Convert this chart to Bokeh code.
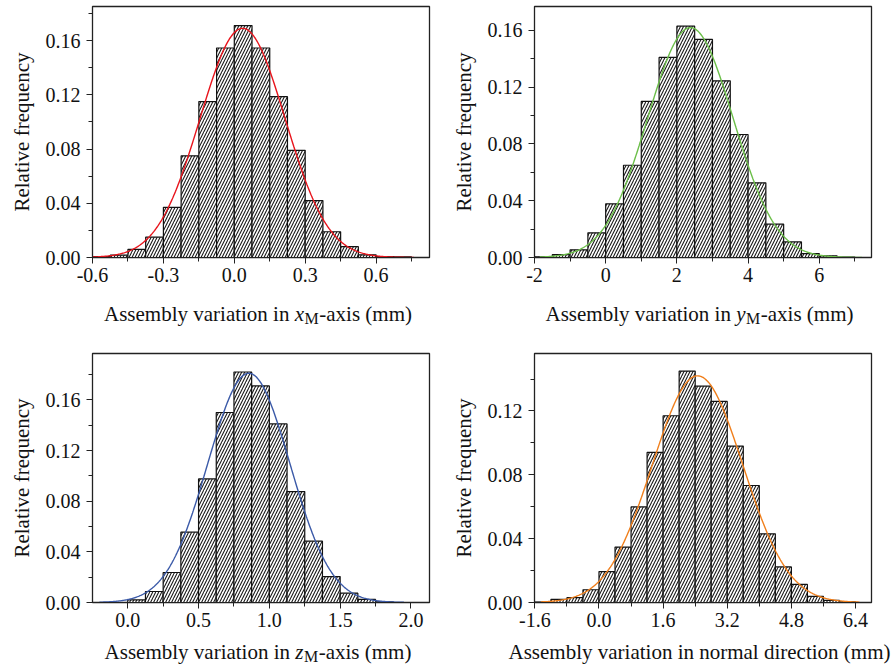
import numpy as np
from bokeh.plotting import figure
from bokeh.layouts import column, row
from bokeh.models import Range1d, FixedTicker, PrintfTickFormatter, Label
from bokeh.embed import file_html
from bokeh.resources import INLINE

FONT = "Liberation Serif"

# ---------------- data ----------------
# Panel 1: x_M-axis
p1_bin_start = -0.6
p1_bin_width = 0.075
p1_freq = [0.0007, 0.0017, 0.006, 0.015, 0.037, 0.075, 0.115, 0.1545, 0.171,
           0.1545, 0.1186, 0.079, 0.042, 0.019, 0.008, 0.002, 0.0007, 0.0004]
p1_fit_mean, p1_fit_sd, p1_fit_peak = 0.035, 0.18, 0.169
p1_fit_span = (-0.6, 0.76)
p1_xticks = [-0.6, -0.3, 0.0, 0.3, 0.6]
p1_xminor = [-0.45, -0.15, 0.15, 0.45, 0.75]
p1_yticks = [0.0, 0.04, 0.08, 0.12, 0.16]

# Panel 2: y_M-axis
p2_bin_start = -2.0
p2_bin_width = 0.5
p2_freq = [0.0005, 0.002, 0.0054, 0.0174, 0.0378, 0.065, 0.110, 0.141, 0.163,
           0.1537, 0.1245, 0.0867, 0.0526, 0.0235, 0.011, 0.0028, 0.0012, 0.0003]
p2_fit_mean, p2_fit_sd, p2_fit_peak = 2.38, 1.2, 0.162
p2_fit_span = (-1.85, 7.2)
p2_xticks = [-2, 0, 2, 4, 6]
p2_xminor = [-1, 1, 3, 5, 7]
p2_yticks = [0.0, 0.04, 0.08, 0.12, 0.16]

# Panel 3: z_M-axis
p3_bin_start = 0.0
p3_bin_width = 0.125
p3_freq = [0.002, 0.0087, 0.0237, 0.0555, 0.0976, 0.150, 0.182, 0.171, 0.141,
           0.0876, 0.0484, 0.0205, 0.0074, 0.0024, 0.0005]
p3_fit_mean, p3_fit_sd, p3_fit_peak = 0.855, 0.29, 0.181
p3_fit_span = (-0.2, 1.95)
p3_xticks = [0.0, 0.5, 1.0, 1.5, 2.0]
p3_xminor = [0.25, 0.75, 1.25, 1.75]
p3_yticks = [0.0, 0.04, 0.08, 0.12, 0.16]

# Panel 4: normal direction
p4_bin_start = -1.6
p4_bin_width = 0.4
p4_freq = [0.0002, 0.0019, 0.003, 0.008, 0.0194, 0.0347, 0.0599, 0.094, 0.117,
           0.145, 0.1355, 0.126, 0.098, 0.0733, 0.043, 0.0223, 0.0113, 0.0038,
           0.0013, 0.0004]
p4_fit_mean, p4_fit_sd, p4_fit_peak = 2.46, 1.13, 0.142
p4_fit_span = (-1.45, 6.5)
p4_xticks = [-1.6, 0.0, 1.6, 3.2, 4.8, 6.4]
p4_xminor = [-0.8, 0.8, 2.4, 4.0, 5.6]
p4_yticks = [0.0, 0.04, 0.08, 0.12]

# ---------------- text metrics (Times / Liberation Serif) ----------------
REG = {' ': 250, 'A': 722, 'M': 889, 'R': 667, 'a': 444, 'b': 500, 'c': 444,
       'd': 500, 'e': 444, 'f': 333, 'i': 278, 'l': 278, 'm': 778, 'n': 500,
       'o': 500, 'q': 500, 'r': 333, 's': 389, 't': 278, 'u': 500, 'v': 500,
       'x': 500, 'y': 500, '(': 333, ')': 333, '-': 333}
ITAL = {'x': 444, 'y': 444, 'z': 389}


def tw(s, size, table=REG):
    return sum(table.get(c, 500) for c in s) * size / 1000.0


LBL_SIZE = 21
SUB_SIZE = 16
TICK_SIZE = "20px"
INK = "#111111"


def make_strip(width, height, center, y_base, var=None, plain=None):
    s = figure(width=width, height=height, x_range=Range1d(0, width),
               y_range=Range1d(0, height), output_backend="svg",
               toolbar_location=None, x_axis_location=None, y_axis_location=None,
               min_border=0, min_border_left=0, min_border_right=0,
               min_border_top=0, min_border_bottom=0)
    s.outline_line_color = None
    s.grid.visible = False
    s.background_fill_color = "white"
    s.border_fill_color = "white"
    common = dict(text_font=FONT, text_color=INK, text_baseline="alphabetic",
                  text_align="left")
    if plain is not None:
        s.add_layout(Label(x=center, y=y_base, text=plain,
                           text_font_size=f"{LBL_SIZE}px",
                           **{**common, "text_align": "center"}))
        return s
    pre = "Assembly variation in "
    post = "-axis (mm)"
    w_pre = tw(pre, LBL_SIZE)
    w_var = tw(var, LBL_SIZE, ITAL)
    w_sub = tw("M", SUB_SIZE) + 1.0
    w_post = tw(post, LBL_SIZE)
    total = w_pre + w_var + w_sub + w_post
    x0 = center - total / 2.0
    s.add_layout(Label(x=x0, y=y_base, text=pre.strip(),
                       text_font_size=f"{LBL_SIZE}px", **common))
    s.add_layout(Label(x=x0 + w_pre, y=y_base, text=var, text_font_style="italic",
                       text_font_size=f"{LBL_SIZE}px", **common))
    s.add_layout(Label(x=x0 + w_pre + w_var + 0.5, y=y_base - 5, text="M",
                       text_font_size=f"{SUB_SIZE}px", **common))
    s.add_layout(Label(x=x0 + w_pre + w_var + w_sub, y=y_base, text=post,
                       text_font_size=f"{LBL_SIZE}px", **common))
    return s


def make_panel(width, height, borders, xr, yr, freq, bin_start, bin_width,
               fit, span, color, xticks, xminor, yticks, xfmt):
    bl, br, bt, bb = borders
    p = figure(width=width, height=height, x_range=Range1d(*xr), y_range=Range1d(*yr),
               output_backend="svg", toolbar_location=None,
               min_border_left=bl, min_border_right=br,
               min_border_top=bt, min_border_bottom=bb)
    p.background_fill_color = "white"
    p.border_fill_color = "white"
    p.grid.visible = False
    p.outline_line_color = "#222222"
    p.outline_line_width = 1.3
    p.outline_line_alpha = 1.0

    n = len(freq)
    lefts = [bin_start + i * bin_width for i in range(n)]
    rights = [l + bin_width for l in lefts]
    p.quad(left=lefts, right=rights, bottom=0, top=freq,
           fill_color="white", line_color=INK, line_width=1.2,
           hatch_pattern="/", hatch_scale=6, hatch_weight=1.1,
           hatch_color="#1a1a1a")

    mean, sd, peak = fit
    xs = np.linspace(span[0], span[1], 400)
    ys = peak * np.exp(-0.5 * ((xs - mean) / sd) ** 2)
    p.line(xs, ys, line_color=color, line_width=1.4)

    minor_y = [t + 0.02 for t in yticks]
    for ax, ticks, minor, fmt in ((p.xaxis[0], xticks, xminor, xfmt),
                                  (p.yaxis[0], yticks, minor_y, "%.2f")):
        ax.ticker = FixedTicker(ticks=ticks, minor_ticks=minor)
        ax.formatter = PrintfTickFormatter(format=fmt)
        ax.axis_line_color = "#222222"
        ax.axis_line_width = 1.0
        ax.major_tick_line_color = "#222222"
        ax.minor_tick_line_color = "#222222"
        ax.major_tick_in = 0
        ax.major_tick_out = 6
        ax.minor_tick_in = 0
        ax.minor_tick_out = 4
        ax.major_label_text_font = FONT
        ax.major_label_text_font_size = TICK_SIZE
        ax.major_label_text_color = INK
    p.yaxis[0].major_label_standoff = 6
    p.xaxis[0].major_label_standoff = 4
    p.yaxis[0].axis_label = "Relative frequency"
    p.yaxis[0].axis_label_text_font = FONT
    p.yaxis[0].axis_label_text_font_size = f"{LBL_SIZE}px"
    p.yaxis[0].axis_label_text_font_style = "normal"
    p.yaxis[0].axis_label_text_color = INK
    p.yaxis[0].axis_label_standoff = 9
    return p


W = 448
H1, HS1, H2, HS2 = 300, 40, 296, 35
B1L = (92, 19, 6, 43)
B1R = (85, 25, 6, 43)
B2L = (92, 19, 13, 34)
B2R = (85, 25, 13, 34)

p1 = make_panel(W, H1, B1L, (-0.6, 0.826), (0, 0.1851), p1_freq, p1_bin_start,
                p1_bin_width, (p1_fit_mean, p1_fit_sd, p1_fit_peak), p1_fit_span,
                "#e8141c", p1_xticks, p1_xminor, p1_yticks, "%.1f")
p2 = make_panel(W, H1, B1R, (-2.0, 7.468), (0, 0.1769), p2_freq, p2_bin_start,
                p2_bin_width, (p2_fit_mean, p2_fit_sd, p2_fit_peak), p2_fit_span,
                "#6cbf4a", p2_xticks, p2_xminor, p2_yticks, "%d")
p3 = make_panel(W, H2, B2L, (-0.249, 2.131), (0, 0.1966), p3_freq, p3_bin_start,
                p3_bin_width, (p3_fit_mean, p3_fit_sd, p3_fit_peak), p3_fit_span,
                "#3b5aa8", p3_xticks, p3_xminor, p3_yticks, "%.1f")
p4 = make_panel(W, H2, B2R, (-1.609, 6.799), (0, 0.156), p4_freq, p4_bin_start,
                p4_bin_width, (p4_fit_mean, p4_fit_sd, p4_fit_peak), p4_fit_span,
                "#f07f1c", p4_xticks, p4_xminor, p4_yticks, "%.1f")

s1 = make_strip(W, HS1, 92 + (W - 92 - 19) / 2.0 - 3, 27, var="x")
s2 = make_strip(W, HS1, 85 + (W - 85 - 25) / 2.0 - 3, 27, var="y")
s3 = make_strip(W, HS2, 92 + (W - 92 - 19) / 2.0 - 3, 20, var="z")
s4 = make_strip(W, HS2, 85 + (W - 85 - 25) / 2.0 - 3, 20,
                plain="Assembly variation in normal direction (mm)")

layout = column(row(p1, p2), row(s1, s2), row(p3, p4), row(s3, s4))
open("out.html", "w").write(file_html(layout, INLINE))
